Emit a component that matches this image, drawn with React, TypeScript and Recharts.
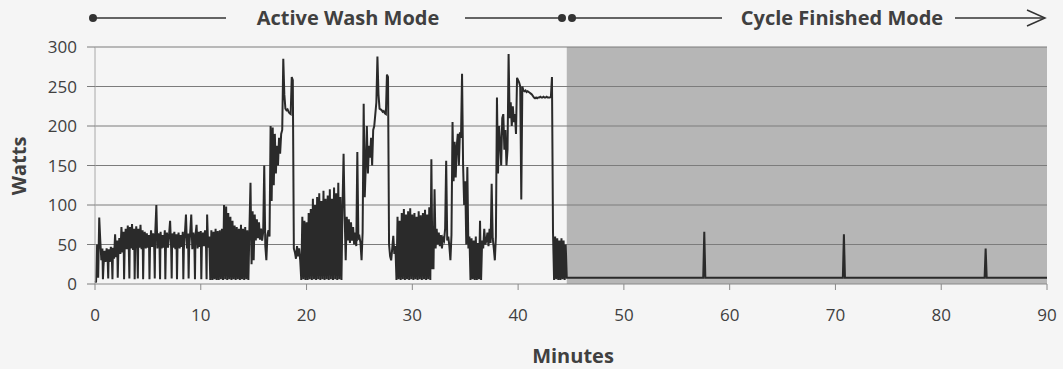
import React from "react";
import {
  LineChart,
  Line,
  XAxis,
  YAxis,
  ReferenceArea,
  ReferenceLine,
} from "recharts";

// power readings during the wash, one reading every 0.1 minute (0.0 .. 44.9)
const sampleStep = 0.1;
const activeWatts = [
  2, 3, 50, 8, 84, 55, 30, 45, 22, 42,
  28, 45, 30, 44, 28, 47, 30, 46, 32, 63,
  34, 55, 36, 58, 38, 72, 40, 66, 42, 70,
  44, 74, 42, 72, 45, 76, 43, 70, 45, 73,
  44, 70, 46, 75, 44, 68, 46, 66, 45, 64,
  46, 62, 45, 68, 47, 64, 45, 66, 100, 45,
  64, 47, 66, 45, 62, 46, 68, 44, 65, 46,
  62, 80, 45, 64, 46, 66, 44, 63, 46, 65,
  45, 62, 47, 66, 44, 64, 88, 45, 64, 46,
  65, 88, 44, 65, 46, 62, 75, 45, 66, 47,
  67, 46, 65, 48, 68, 45, 88, 46, 60, 5,
  68, 5, 66, 6, 70, 5, 67, 5, 68, 6,
  70, 5, 100, 6, 98, 5, 90, 6, 85, 5,
  80, 6, 74, 5, 72, 6, 70, 5, 75, 6,
  70, 5, 72, 6, 68, 5, 70, 128, 25, 92,
  30, 88, 55, 82, 58, 78, 56, 70, 55, 66,
  150, 48, 30, 62, 68, 60, 200, 105, 198, 125,
  190, 140, 175, 150, 185, 165, 190, 195, 285, 240,
  222, 220, 221, 218, 216, 215, 262, 258, 45, 40,
  32, 48, 35, 45, 30, 5, 85, 6, 80, 5,
  78, 5, 90, 6, 95, 5, 108, 6, 100, 5,
  110, 6, 115, 5, 105, 6, 118, 5, 108, 6,
  112, 5, 120, 6, 108, 5, 122, 6, 115, 5,
  128, 6, 110, 5, 100, 165, 88, 30, 85, 55,
  82, 52, 78, 55, 72, 50, 65, 48, 167, 58,
  60, 52, 30, 65, 228, 110, 150, 200, 140, 175,
  160, 185, 150, 195, 200, 215, 230, 288, 240, 222,
  221, 220, 218, 219, 216, 215, 265, 262, 50, 35,
  30, 45, 61, 38, 48, 5, 85, 6, 80, 5,
  90, 6, 95, 5, 88, 6, 92, 5, 96, 6,
  88, 5, 90, 6, 85, 5, 92, 6, 87, 5,
  90, 6, 94, 5, 88, 6, 97, 5, 158, 20,
  20, 120, 45, 70, 50, 65, 48, 62, 45, 58,
  55, 70, 156, 55, 60, 48, 30, 62, 205, 130,
  180, 135, 175, 190, 150, 192, 185, 266, 150, 100,
  130, 50, 148, 45, 60, 5, 58, 6, 55, 5,
  60, 5, 52, 6, 80, 5, 55, 45, 70, 50,
  55, 65, 48, 70, 52, 127, 58, 45, 30, 60,
  236, 140, 200, 180, 150, 210, 215, 170, 195, 150,
  170, 291, 210, 230, 200, 225, 205, 215, 190, 261,
  258, 255, 250, 107, 250, 245, 244, 245, 243, 244,
  243, 242, 241, 240, 238, 236, 235, 236, 235, 236,
  236, 237, 236, 236, 237, 236, 236, 237, 236, 236,
  236, 237, 262, 65, 5, 60, 6, 58, 5, 55,
  5, 58, 6, 55, 5, 50, 8, 8, 8, 8,
];

// short drops to near zero during the first fill (between the 0.1 min samples)
const dipMinutes = [
  0.75, 1.25, 1.65, 2.15, 2.75, 3.25, 3.75, 4.05, 4.55, 5.15,
  5.65, 6.15, 6.65, 7.25, 7.75, 8.35, 8.85, 9.45, 10.05, 10.55,
];
const dipWatts = [6, 7, 6, 8, 6, 7, 6, 7, 6, 6, 7, 6, 6, 7, 6, 6, 7, 6, 6, 6];

// standby after the cycle has finished
const finishedMinutes = [45, 57.5, 57.6, 57.7, 70.7, 70.8, 70.9, 84.1, 84.2, 84.3, 90];
const finishedWatts = [8, 8, 66, 8, 8, 63, 8, 8, 45, 8, 8];

const finishedStart = 44.6;
const minuteTicks = [0, 10, 20, 30, 40, 50, 60, 70, 80, 90];
const wattTicks = [0, 50, 100, 150, 200, 250, 300];

const chartData = [
  ...activeWatts.map((w, i) => ({
    minute: Math.round(i * sampleStep * 10) / 10,
    watts: w,
  })),
  ...dipMinutes.map((m, i) => ({ minute: m, watts: dipWatts[i] })),
  ...finishedMinutes.map((m, i) => ({ minute: m, watts: finishedWatts[i] })),
].sort((a, b) => a.minute - b.minute);

const font = "'Open Sans', sans-serif";
const ink = "#404040";

export default function App() {
  return (
    <div
      style={{
        position: "absolute",
        left: 0,
        top: 0,
        width: 1063,
        height: 369,
        background: "#f5f5f5",
        fontFamily: font,
      }}
    >
      <LineChart
        width={1063}
        height={369}
        data={chartData}
        margin={{ top: 47, right: 16, left: 0, bottom: 0 }}
      >
        <ReferenceArea
          x1={finishedStart}
          x2={90}
          y1={0}
          y2={300}
          fill="#b6b6b6"
          fillOpacity={1}
          stroke="none"
        />
        {/* horizontal gridlines, drawn over the shaded part too */}
        {wattTicks.slice(1).map((w) => (
          <ReferenceLine key={w} y={w} stroke="#7c7c7c" strokeWidth={1.2} />
        ))}
        <XAxis
          dataKey="minute"
          type="number"
          domain={[0, 90]}
          ticks={minuteTicks}
          height={85}
          axisLine={{ stroke: "#8a8a8a" }}
          tickLine={{ stroke: "#8a8a8a" }}
          tickSize={6}
          tickMargin={19}
          tick={{ fill: ink, fontSize: 17, fontFamily: font }}
        />
        <YAxis
          type="number"
          domain={[0, 300]}
          ticks={wattTicks}
          width={95}
          axisLine={{ stroke: "#a8a8a8" }}
          tickLine={{ stroke: "#7c7c7c" }}
          tickSize={8}
          tickMargin={10}
          tick={{ fill: ink, fontSize: 17, fontFamily: font }}
        />
        <Line
          type="linear"
          dataKey="watts"
          stroke="#2a2a2a"
          strokeWidth={2}
          dot={false}
          activeDot={false}
          isAnimationActive={false}
        />
      </LineChart>

      <svg
        width={1063}
        height={369}
        style={{ position: "absolute", left: 0, top: 0, pointerEvents: "none" }}
      >
        {/* mode banner */}
        <g stroke="#333" strokeWidth={1.5} fill="none">
          <line x1={93} y1={18} x2={226} y2={18} />
          <line x1={465} y1={18} x2={560} y2={18} />
          <line x1={573} y1={18} x2={722} y2={18} />
          <line x1={955} y1={18} x2={1044} y2={18} />
          <polyline points="1027,10 1045,18 1027,26" />
        </g>
        <circle cx={93} cy={18} r={4} fill="#333" />
        <circle cx={562} cy={18} r={4} fill="#333" />
        <circle cx={572} cy={18} r={4} fill="#333" />
        <text
          x={348}
          y={25}
          textAnchor="middle"
          fontFamily={font}
          fontWeight={700}
          fontSize={20}
          fill={ink}
        >
          Active Wash Mode
        </text>
        <text
          x={842}
          y={25}
          textAnchor="middle"
          fontFamily={font}
          fontWeight={700}
          fontSize={20}
          fill={ink}
        >
          Cycle Finished Mode
        </text>
        {/* axis titles */}
        <text
          x={573}
          y={363}
          textAnchor="middle"
          fontFamily={font}
          fontWeight={700}
          fontSize={20}
          fill={ink}
        >
          Minutes
        </text>
        <text
          x={0}
          y={0}
          transform="translate(26,166) rotate(-90)"
          textAnchor="middle"
          fontFamily={font}
          fontWeight={700}
          fontSize={20}
          fill={ink}
        >
          Watts
        </text>
      </svg>
    </div>
  );
}
